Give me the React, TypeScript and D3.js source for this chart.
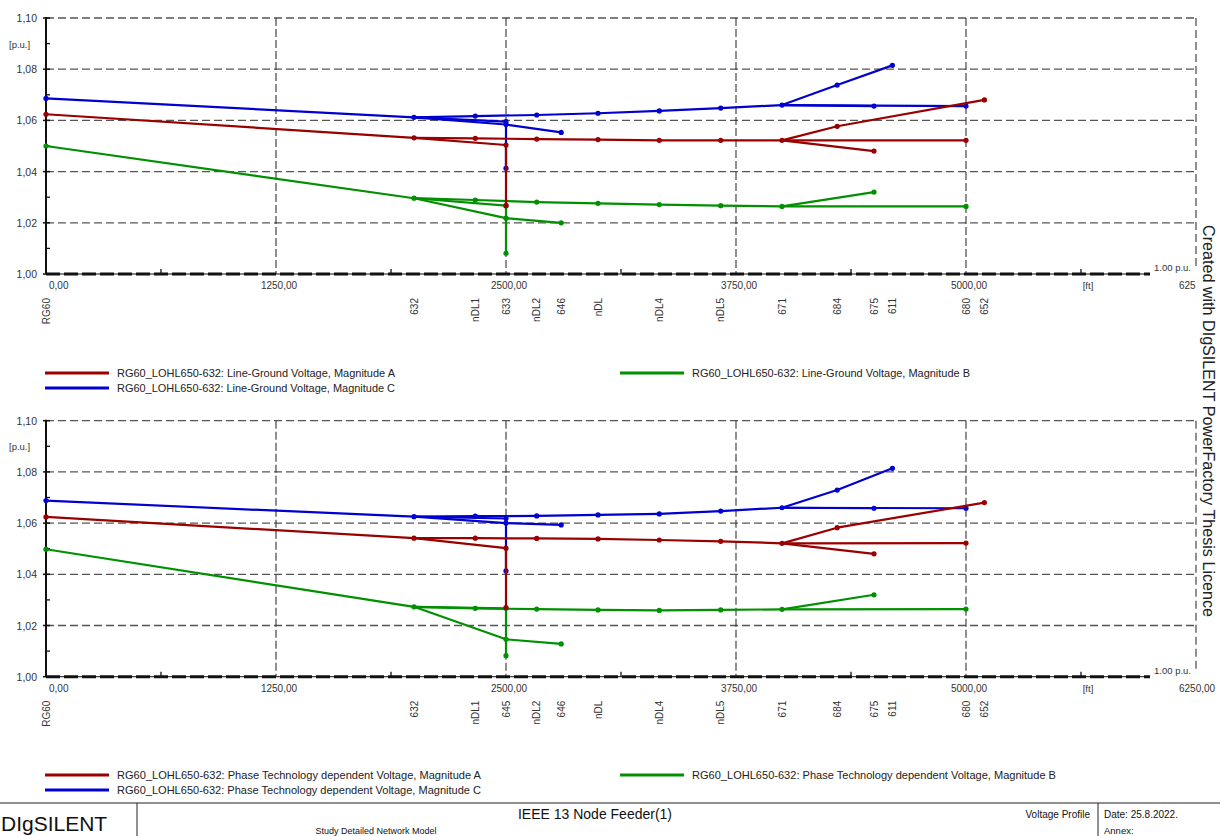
import React from "react";
import * as d3 from "d3";

// ---------- data ----------
const nodeNames = ["RG60", "632", "nDL1", "633", "634", "645", "646", "nDL2", "nDL", "nDL4", "nDL5", "671", "684", "611", "652", "675", "680"];
const nodeDist = [0, 2000, 2333, 2500, 2500, 2500, 2800, 2667, 3000, 3333, 3667, 4000, 4300, 4600, 5100, 4500, 5000];
const branches: [string, string][] = [
  ["RG60", "632"], ["632", "nDL1"], ["nDL1", "nDL2"], ["nDL2", "nDL"], ["nDL", "nDL4"], ["nDL4", "nDL5"],
  ["nDL5", "671"], ["671", "680"], ["632", "633"], ["633", "634"], ["632", "645"], ["645", "646"],
  ["671", "684"], ["684", "611"], ["684", "652"], ["671", "675"],
];

// values aligned with nodeNames (null = phase not present)
const topA = [1.0624, 1.0532, 1.0530, 1.0504, 1.0267, null, null, 1.0527, 1.0525, 1.0522, 1.0522, 1.0522, 1.0577, null, 1.0680, 1.0480, 1.0522];
const topB = [1.0500, 1.0296, 1.0289, 1.0267, 1.0081, 1.0218, 1.0200, 1.0281, 1.0276, 1.0271, 1.0267, 1.0264, null, null, null, 1.0320, 1.0264];
const topC = [1.0686, 1.0612, 1.0617, 1.0595, 1.0413, 1.0584, 1.0553, 1.0621, 1.0628, 1.0637, 1.0648, 1.0660, 1.0738, 1.0815, null, 1.0656, 1.0656];

const botA = [1.0624, 1.0541, 1.0541, 1.0502, 1.0270, null, null, 1.0540, 1.0538, 1.0534, 1.0529, 1.0521, 1.0582, null, 1.0680, 1.0480, 1.0522];
const botB = [1.0498, 1.0273, 1.0267, 1.0267, 1.0082, 1.0146, 1.0128, 1.0264, 1.0261, 1.0259, 1.0261, 1.0263, null, null, null, 1.0320, 1.0264];
const botC = [1.0688, 1.0625, 1.0627, 1.0618, 1.0413, 1.0600, 1.0593, 1.0628, 1.0632, 1.0636, 1.0647, 1.0660, 1.0729, 1.0814, null, 1.0658, 1.0658];

const labelDist = [0, 2000, 2333, 2500, 2667, 2800, 3000, 3333, 3667, 4000, 4300, 4500, 4600, 5000, 5100];
const topLabels = ["RG60", "632", "nDL1", "633", "nDL2", "646", "nDL", "nDL4", "nDL5", "671", "684", "675", "611", "680", "652"];
const botLabels = ["RG60", "632", "nDL1", "645", "nDL2", "646", "nDL", "nDL4", "nDL5", "671", "684", "675", "611", "680", "652"];

const xTicks = [0, 1250, 2500, 3750, 5000];
const xTickLabels = ["0,00", "1250,00", "2500,00", "3750,00", "5000,00"];
const xMinor = [625, 1875, 3125, 4375, 5625];
const yTicks = [1.0, 1.02, 1.04, 1.06, 1.08, 1.1];
const yTickLabels = ["1,00", "1,02", "1,04", "1,06", "1,08", "1,10"];
const yMinor = [1.01, 1.03, 1.05, 1.07, 1.09];

const topLegend = [
  "RG60_LOHL650-632: Line-Ground Voltage, Magnitude A",
  "RG60_LOHL650-632: Line-Ground Voltage, Magnitude B",
  "RG60_LOHL650-632: Line-Ground Voltage, Magnitude C",
];
const botLegend = [
  "RG60_LOHL650-632: Phase Technology dependent Voltage, Magnitude A",
  "RG60_LOHL650-632: Phase Technology dependent Voltage, Magnitude B",
  "RG60_LOHL650-632: Phase Technology dependent Voltage, Magnitude C",
];

const COL_A = "#990000";
const COL_B = "#009000";
const COL_C = "#0000d0";
const FONT = "Liberation Sans, Arial, sans-serif";

const x = d3.scaleLinear().domain([0, 6250]).range([46, 1196]);

function Series({ vals, color, y }: { vals: (number | null)[]; color: string; y: d3.ScaleLinear<number, number> }) {
  const idx = (n: string) => nodeNames.indexOf(n);
  const line = d3.line<[number, number]>().x((d) => x(d[0])).y((d) => y(d[1]));
  const segs = branches
    .map(([a, b]) => [idx(a), idx(b)])
    .filter(([i, j]) => vals[i] != null && vals[j] != null)
    .map(([i, j]) => line([[nodeDist[i], vals[i] as number], [nodeDist[j], vals[j] as number]]) as string);
  return (
    <g>
      {segs.map((d, k) => (
        <path key={k} d={d} stroke={color} strokeWidth={2.2} fill="none" strokeLinecap="round" />
      ))}
      {vals.map((v, i) =>
        v == null ? null : <circle key={i} cx={x(nodeDist[i])} cy={y(v)} r={2.6} fill={color} />
      )}
    </g>
  );
}

function Panel({ y0, y1, A, B, C, labels, rightLabel }: any) {
  const y = d3.scaleLinear().domain([1.0, 1.1]).range([y1, y0]);
  const xl = x(0), xr = x(6250);
  return (
    <g fontFamily={FONT}>
      {yTicks.slice(1).map((t) => (
        <line key={t} x1={xl} x2={xr} y1={y(t)} y2={y(t)} stroke="#555" strokeWidth={1.3} strokeDasharray="8,4" />
      ))}
      {xTicks.slice(1).map((t) => (
        <line key={t} x1={x(t)} x2={x(t)} y1={y(1.1)} y2={y(1.0)} stroke="#333" strokeWidth={1.1} strokeDasharray="8,3" />
      ))}
      <line x1={xr} x2={xr} y1={y(1.1)} y2={y(1.0) - 8} stroke="#555" strokeWidth={1.3} strokeDasharray="8,4" />
      <line x1={xl} x2={xl} y1={y(1.1) - 1} y2={y(1.0)} stroke="#111" strokeWidth={2} />
      {yTicks.map((t) => (
        <line key={t} x1={xl - 3} x2={xl + 4} y1={y(t)} y2={y(t)} stroke="#111" strokeWidth={1.5} />
      ))}
      {yMinor.map((t) => (
        <line key={t} x1={xl} x2={xl + 4} y1={y(t)} y2={y(t)} stroke="#111" strokeWidth={1.3} />
      ))}
      {yTicks.map((t, i) => (
        <text key={t} x={37} y={y(t) + 4} fontSize={10.5} textAnchor="end" fill="#333">{yTickLabels[i]}</text>
      ))}
      <text x={9} y={y(1.09) + 4} fontSize={9.5} fill="#333">[p.u.]</text>
      <line x1={xl} x2={1150} y1={y(1.0)} y2={y(1.0)} stroke="#111" strokeWidth={1} />
      <line x1={xl} x2={1150} y1={y(1.0)} y2={y(1.0)} stroke="#111" strokeWidth={3} strokeDasharray="14,4" />
      {xMinor.map((t) => (
        <line key={t} x1={x(t)} x2={x(t)} y1={y(1.0)} y2={y(1.0) - 5} stroke="#111" strokeWidth={1.3} />
      ))}
      {xTicks.map((t, i) => (
        <text key={t} x={x(t) + 3} y={y(1.0) + 15} fontSize={10} textAnchor={i === 0 ? "start" : "middle"} fill="#333">
          {xTickLabels[i]}
        </text>
      ))}
      <text x={1088} y={y(1.0) + 15} fontSize={9.5} textAnchor="middle" fill="#333">[ft]</text>
      <text x={1179} y={y(1.0) + 15} fontSize={10} fill="#333">{rightLabel}</text>
      <text x={1154} y={y(1.0) - 3} fontSize={9.5} fill="#333">1.00 p.u.</text>
      {labels.map((l: string, i: number) => (
        <text key={i} transform={`translate(${x(labelDist[i]) + 3.5},${y(1.0) + 24}) rotate(-90)`} fontSize={10} textAnchor="end" fill="#333">
          {l}
        </text>
      ))}
      <Series vals={C} color={COL_C} y={y} />
      <Series vals={B} color={COL_B} y={y} />
      <Series vals={A} color={COL_A} y={y} />
    </g>
  );
}

function Legend({ ly, texts, len }: { ly: number; texts: string[]; len: number }) {
  const items = [
    { x0: 45, y: ly, c: COL_A, t: texts[0] },
    { x0: 620, y: ly, c: COL_B, t: texts[1] },
    { x0: 45, y: ly + 15, c: COL_C, t: texts[2] },
  ];
  return (
    <g fontFamily={FONT}>
      {items.map((it, i) => (
        <g key={i}>
          <line x1={it.x0} x2={it.x0 + 64} y1={it.y} y2={it.y} stroke={it.c} strokeWidth={3} />
          <text x={it.x0 + 72} y={it.y + 4} fontSize={10.5} fill="#222" textLength={len} lengthAdjust="spacingAndGlyphs">
            {it.t}
          </text>
        </g>
      ))}
    </g>
  );
}

export default function App() {
  return (
    <svg width={1220} height={836} style={{ position: "absolute", left: 0, top: 0, background: "#fff" }}>
      <rect width={1220} height={836} fill="#fff" />
      <Panel y0={18} y1={274} A={topA} B={topB} C={topC} labels={topLabels} rightLabel="625" />
      <Legend ly={373} texts={topLegend} len={278} />
      <Panel y0={420.7} y1={676.7} A={botA} B={botB} C={botC} labels={botLabels} rightLabel="6250,00" />
      <Legend ly={775} texts={botLegend} len={364} />
      <rect x={1199} y={220} width={21} height={402} fill="#fff" />
      <text transform="translate(1203,225) rotate(90)" fontFamily={FONT} fontSize={16} fill="#222" textLength={392} lengthAdjust="spacingAndGlyphs">
        Created with DIgSILENT PowerFactory Thesis Licence
      </text>
      <g fontFamily={FONT} fill="#111">
        <line x1={0} x2={1220} y1={803} y2={803} stroke="#222" strokeWidth={1.2} />
        <line x1={137} x2={137} y1={803} y2={836} stroke="#222" strokeWidth={1} />
        <line x1={1098} x2={1098} y1={803} y2={836} stroke="#222" strokeWidth={1} />
        <text x={1} y={831} fontSize={21}>DIgSILENT</text>
        <text x={595} y={819} fontSize={14} textAnchor="middle">IEEE 13 Node Feeder(1)</text>
        <text x={376} y={834} fontSize={9} textAnchor="middle">Study Detailed Network Model</text>
        <text x={1090} y={818} fontSize={10} textAnchor="end">Voltage Profile</text>
        <text x={1104} y={818} fontSize={10}>Date: 25.8.2022.</text>
        <text x={1104} y={834} fontSize={9.5}>Annex:</text>
      </g>
    </svg>
  );
}
